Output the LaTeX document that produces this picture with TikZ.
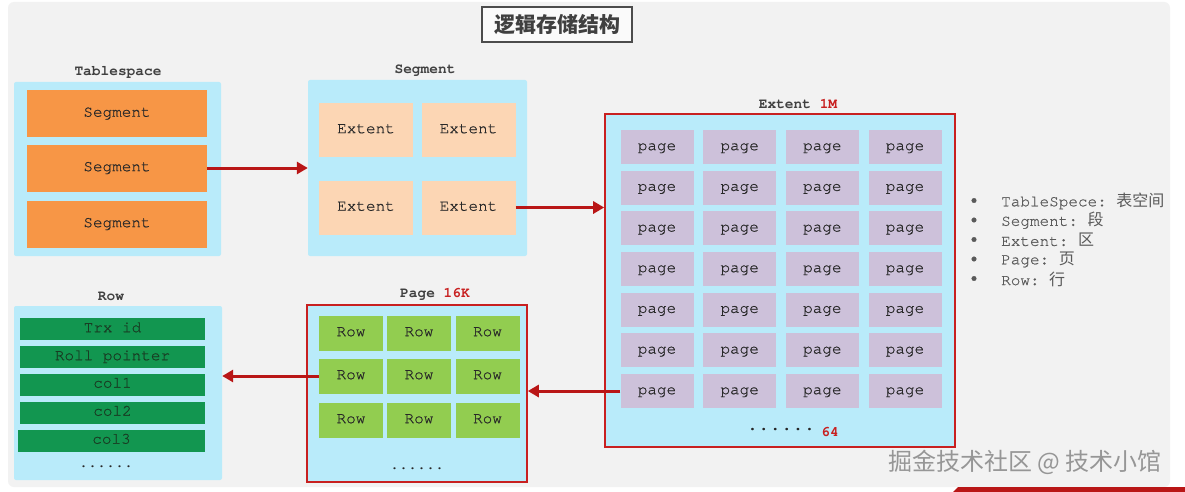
\documentclass[tikz,border=0pt]{standalone}
\usepackage{fontspec}
\setmonofont{texgyrecursor}[Extension=.otf, UprightFont=*-regular, BoldFont=*-bold, ItalicFont=*-italic, BoldItalicFont=*-bolditalic, UprightFeatures={FakeBold=0.6}]
\newfontfamily\cjk{Noto Sans CJK SC}
\usetikzlibrary{arrows.meta}
\definecolor{bggray}{RGB}{242,242,242}
\definecolor{panelblue}{RGB}{185,235,250}
\definecolor{segorange}{RGB}{247,150,70}
\definecolor{extpeach}{RGB}{252,214,180}
\definecolor{pagelav}{RGB}{205,193,218}
\definecolor{rowdark}{RGB}{18,150,80}
\definecolor{rowlight}{RGB}{146,205,80}
\definecolor{redline}{RGB}{200,32,32}
\definecolor{arrowred}{RGB}{185,22,22}
\definecolor{labelgray}{RGB}{64,64,64}
\definecolor{txtdark}{RGB}{40,40,40}
\definecolor{fieldtxt}{RGB}{25,60,35}
\definecolor{legendgray}{RGB}{90,90,90}
\definecolor{wmgray}{RGB}{150,150,150}
\tikzset{
  panel/.style={fill=panelblue, draw=none, rounded corners=2pt, inner sep=0pt},
  redpanel/.style={fill=panelblue, draw=redline, line width=1.6pt, inner sep=0pt},
  cell/.style={draw=none, inner sep=0pt, text height=0.64em, text depth=0pt, font=\ttfamily\fontsize{16}{16}\selectfont, text=txtdark},
  segbox/.style={cell, fill=segorange, minimum width=180pt, minimum height=47pt},
  extbox/.style={cell, fill=extpeach, minimum width=94pt, minimum height=54pt},
  pagebox/.style={cell, fill=pagelav, minimum width=73pt, minimum height=34pt},
  fieldbox/.style={cell, fill=rowdark, text=fieldtxt, minimum width=185pt, minimum height=22pt},
  rowbox/.style={cell, fill=rowlight, minimum width=64pt, minimum height=35pt},
  lbl/.style={inner sep=0pt, font=\ttfamily\bfseries\fontsize{14.5}{14.5}\selectfont, text=labelgray},
  dots/.style={inner sep=0pt, font=\ttfamily\bfseries\fontsize{15}{15}\selectfont, text=black!85},
  legend/.style={inner sep=0pt, anchor=west, font=\ttfamily\fontsize{16}{16}\selectfont, text=legendgray},
  conn/.style={draw=arrowred, line width=3pt, -{Triangle[length=11pt,width=12pt]}},
}
\begin{document}
\begin{tikzpicture}[x=1pt,y=-1pt]
\useasboundingbox (0,0) rectangle (1185,492);
\fill[white] (0,0) rectangle (1185,492);
\fill[bggray, rounded corners=6pt] (8,2) rectangle (1170,487);
\fill[arrowred] (958,487) -- (1185,487) -- (1185,492) -- (953,492) -- cycle;

% title
\node[draw=black!70, line width=1.2pt, fill=white!60!bggray, minimum width=150pt, minimum height=35pt, inner sep=0pt,
      font=\cjk\bfseries\fontsize{21}{21}\selectfont, text=black!75] (title) at (557,24.5) {逻辑存储结构};

% Tablespace
\node[panel, minimum width=207pt, minimum height=174pt] (tsp) at (117.5,169) {};
\node[lbl] (tsl) at (118,72) {Tablespace};
\node[segbox] (s1) at (117,113.5) {Segment};
\node[segbox] (s2) at (117,168) {Segment};
\node[segbox] (s3) at (117,224) {Segment};

% Segment
\node[panel, minimum width=219pt, minimum height=176pt] (sgp) at (417.5,168) {};
\node[lbl] (sgl) at (425,71) {Segment};
\node[extbox] (e1) at (366,130) {Extent};
\node[extbox] (e2) at (468.5,130) {Extent};
\node[extbox] (e3) at (366,207.5) {Extent};
\node[extbox] (e4) at (468.5,207.5) {Extent};

% Extent 1M
\node[redpanel, minimum width=350pt, minimum height=333pt] (exp) at (780,280.5) {};
\node[lbl] (exl) at (798,104) {Extent \textcolor{redline}{1M}};
\foreach \r in {1,...,7}{
  \foreach \c in {1,...,4}{
    \node[pagebox] (p\r\c) at ({657+82.67*(\c-1)},{147+40.67*(\r-1)}) {page};
  }
}
\node[dots, font=\ttfamily\bfseries\fontsize{19}{19}\selectfont] (exd) at (781,430) {......};
\node[lbl, text=redline] (ex64) at (830,432) {64};

% Row
\node[panel, minimum width=208pt, minimum height=174pt] (rwp) at (118,393) {};
\node[lbl] (rwl) at (111,296) {Row};
\node[fieldbox] (f1) at (112.5,329) {Trx id};
\node[fieldbox] (f2) at (112.5,357) {Roll pointer};
\node[fieldbox] (f3) at (112.5,384.5) {col1};
\node[fieldbox] (f4) at (112.5,412.5) {col2};
\node[fieldbox, minimum width=187pt] (f5) at (111.5,440.5) {col3};
\node[dots] (rwd) at (106,467) {......};

% Page 16K
\node[redpanel, minimum width=220pt, minimum height=177pt] (pgp) at (417,393.5) {};
\node[lbl] (pgl) at (435,294) {Page \textcolor{redline}{16K}};
\foreach \r/\y in {1/333,2/376,3/420}{
  \foreach \c/\x in {1/351,2/419,3/487.5}{
    \node[rowbox] (r\r\c) at (\x,\y) {Row};
  }
}
\node[dots] (pgd) at (417,469) {......};

% connectors
\draw[conn] (s2.east) -- (sgp.west |- s2.east);
\draw[conn] (e4.east) -- (exp.west |- e4.east);
\draw[conn] (p71.west) -- (pgp.east |- p71.west);
\draw[conn] (r21.west) -- (rwp.east |- r21.west);

% legend
\foreach \t/\y in {{TableSpece: {\cjk 表空间}}/201,{Segment: {\cjk 段}}/220.5,{Extent: {\cjk 区}}/240,{Page: {\cjk 页}}/259.5,{Row: {\cjk 行}}/279}{
  \node[legend] at (969,\y) {•};
  \node[legend] at (1001,\y) {\t};
}

% watermark
\node[inner sep=0pt, font=\cjk\fontsize{24}{24}\selectfont, text=wmgray] (wm) at (1025,462) {掘金技术社区 @ 技术小馆};
\end{tikzpicture}
\end{document}
